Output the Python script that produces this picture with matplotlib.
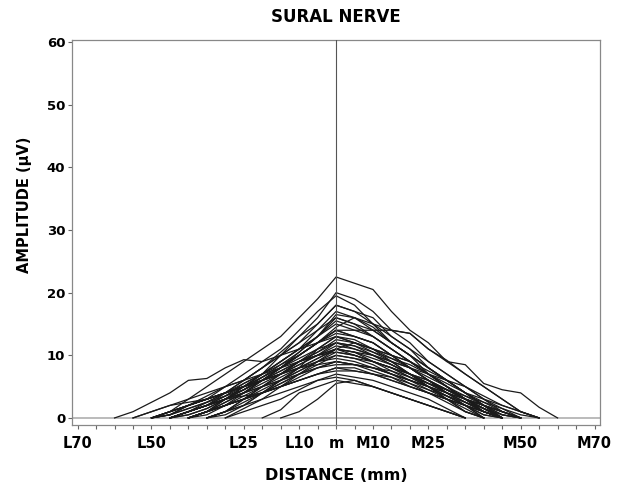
import numpy as np
import matplotlib
matplotlib.use("Agg")
import matplotlib.pyplot as plt

# distance grid (mm, negative = lateral L, positive = medial M)
distance_mm = list(range(-60, 61, 5))

amplitudes = [
    [0,0,0,1,3,5,7,9,11,13,16,19,22.5, 21.5,20.5,17,14,12,9,8.5,5.5,4.5,4,1.7,0],
    [0,0,0,0,1,2.5,4,6,8,10.5,13,16,20, 19,17,14,12,9,7,5,3,1,0,0,0],
    [0,0,0,0.5,2,3.5,5,7,9,11,14,17,19.5, 18,15,14,13.5,11,9,7,5,3,1,0,0],
    [0,0,0,0,0,1,3,5,7,10,13,15,18, 17,15,12,10,8,6,4,2,0,0,0,0],
    [0,0,0,1,2,3,5,6,8,10,12,14,17, 16,14,12,10,7,5,3,1.5,0,0,0,0],
    [0,0,0,0,1,2,3.5,5.5,7,9,11,13,16, 15,13,11,9,7,5,3,1,0,0,0,0],
    [0,1,2.5,4,6,6.3,8,9.3,9,10,11,12,14, 13,12,10,8,6,4,2.5,1,0,0,0,0],
    [0,0,0,0,0,0,1,3,5,7,9,11,13, 12,11,9,7,5,3,1,0,0,0,0,0],
    [0,0,0,0,1,2,3,4,5.5,7,8.5,10,12, 11.5,10,9,8,6,4.5,3,1.5,0,0,0,0],
    [0,0,0,1,2,3,4,5,6,7,9,10,11, 10.5,9,8,7,5.5,4,2.5,1,0,0,0,0],
    [0,0,1,2,3,4,5,6,7,8,9,10,10.5, 10,9,7.5,6,5,3.5,2,0,0,0,0,0],
    [0,0,0,0,0,1,2,3,4.5,6,7.5,9,10, 9.5,8.5,7,5.5,4,2.5,1,0,0,0,0,0],
    [0,0,0,0,0,0,0,0,0,1.3,4,5,6, 5.5,5,4,3,2,1,0,0,0,0,0,0],
    [0,0,0,0,0,0,0,1,2,3,4.5,6,7, 6.5,6,5,4,3,1.5,0,0,0,0,0,0],
    [0,0,0,0,1,2,3,3.5,4,5,6,7,8, 8,7,6,5,4,3,2,1,0,0,0,0],
    [0,0,0,0,0,1,2,3,4,5,6.5,8,9, 8.5,7.5,6.5,5,4,3,2,1,0,0,0,0],
    [0,0,1,2,2.5,3,4,5,6,7.5,9,10.5,12, 11,10,8.5,7,6,4.5,3,2,1,0,0,0],
    [0,0,0,0.5,1.5,2.5,4,5.5,7,9,11,13,15, 14,13,11,9,7,5,3,1.5,0,0,0,0],
    [0,0,0,0,0,0.5,2,4,6,8,10,12,14, 13,12,10,8,6,4,2,0.5,0,0,0,0],
    [0,0,0,0,0,0,1,2,4,6,8,9.5,11, 10,9,8,6.5,5,3.5,2,0,0,0,0,0],
    [0,0,0,1,2,3,4,5,6,7,8,8.5,9, 8.5,8,7,6,5,4,3,2,1,0,0,0],
    [0,0,0,0,0,1,2,3,4,5,6,7,7.5, 7.5,7,6,5,4,3,2,1,0,0,0,0],
    [0,0,0,0,1,2,3,4,5,6,7.5,9,10.5, 10,9,8,7,5.5,4.5,3,2,1,0,0,0],
    [0,0,0,0,0,0,0.5,2,4,6,8,11,13, 12,10.5,9,7,5,3,1,0,0,0,0,0],
    [0,0,0,0,0,1,3,5,7,9,11,14,16, 15,14,12,10,8,6,4,2,0.5,0,0,0],
    [0,0,0,0,1,2,4,6,8,10,12,15,18, 17,16,13,11,8,6,4,2,0,0,0,0],
    [0,0,0,0.5,2,3,4,5,7,8.5,10,12,13, 12.5,11,10,9,7,5,3.5,2,1,0,0,0],
    [0,0,0,0,0,0,1,2,3,4,5,6,6.5, 6,5,4,3,2,1,0,0,0,0,0,0],
    [0,0,0,1,2,3,4,5,6,7,8,9,9.5, 9,8,7.5,6.5,5.5,4.5,3.5,2.5,1.5,0.5,0,0],
    [0,0,0,0,0,1,2.5,4,6,8,10,12,14, 14,14,14,13.5,11,9.2,7,5,3,1,0,0],
    [0,0,0,0,1,2,3,4,5,6,7,8,8.5, 8.5,8,7,6,5,4,3,2,0.5,0,0,0],
    [0,0,0,0,0,0,1,3,5,7,9,10,11.5, 11,10,8.5,7,5.5,4,2.5,1,0,0,0,0],
    [0,0,0,0,0.5,1.5,3,4.5,6,8,10,12,13.5, 13,12,10,8,6.5,5,3,1,0,0,0,0],
    [0,0,0,0,0,0,0,1.5,3,5,7,8,9, 8.5,8,7,6,4.5,3,1.5,0,0,0,0,0],
    [0,0,0,0,0,1,2,3,4,5.5,7,9,11, 10.5,10,9,8,7,6,5,3.5,2,1,0,0],
    [0,0,0,0,1,2,3,4.5,6,7.5,9,10.5,12.5, 12,11,10,9,7.5,6,4,2.5,1,0,0,0],
    [0,0,0,0,0,1,2,3,4,5,6,7,8, 7.5,7,6.5,5.5,4.5,3.5,2.5,1.5,0.5,0,0,0],
    [0,0,0,0.5,1.5,2.5,3.5,4.5,6,7,8.5,10,11, 10.5,9.5,8.5,7,6,4.5,3,1.5,0,0,0,0],
    [0,0,0,0,0,0,1,2.5,4,5.5,7,8.5,10, 9.5,9,8,6.5,5,3.5,2,0.5,0,0,0,0],
    [0,0,0,0,0,1,2.5,4,6,8,10.5,13,16.5, 16,14.5,12,10,8,6,4,2,0,0,0,0],
    [0,0,0,0,1,2,3.5,5,6.5,8,10,12,14.5, 16,15,13,11,9,7,5,3,1.5,0,0,0],
    [0,0,0,0,0,1,2,3.5,5,6.5,8,9.5,11, 12,11,9.5,8,6,4.5,3,1.5,0,0,0,0],
    [0,0,0,0,0,0,0,0,0,0,1,3,5.5, 6,5,4,3,2,1,0,0,0,0,0,0],
    [0,0,0,1,2,3,4,5,6.5,8,9.5,11,12, 11.5,10.5,9.5,8.5,7,5.5,4,3,2,1,0,0],
    [0,0,0,0,0.5,1.5,3,4.5,6.5,8.5,10.5,13,15.5, 14.5,13,11,9,7,5,3,1,0,0,0,0],
]

tick_positions = [-70, -50, -25, -10, 0, 10, 25, 50, 70]
tick_labels = ["L70", "L50", "L25", "L10", "m", "M10", "M25", "M50", "M70"]
y_ticks = [0, 10, 20, 30, 40, 50, 60]

plt.rcParams['font.family'] = ['DejaVu Sans']

fig = plt.figure(figsize=(6.27, 4.90), dpi=100)
ax = fig.add_axes([0.115, 0.133, 0.842, 0.785])

x = np.array(distance_mm, dtype=float)
ax.axhline(0, color="#bbbbbb", lw=1.4, zorder=1)
for row in amplitudes:
    y = np.array(row, dtype=float)
    nz = y > 0
    keep = nz | np.roll(nz, 1) | np.roll(nz, -1)
    yy = np.where(keep, y, np.nan)
    ax.plot(x, yy, color="#1a1a1a", lw=0.9, zorder=2)

ax.axvline(0, color="#555555", lw=0.8, zorder=3)

ax.set_xlim(-71.5, 71.5)
ax.set_ylim(-1.1, 60.3)
ax.set_xticks(tick_positions)
ax.set_xticklabels(tick_labels)
ax.set_xticks(np.arange(-70, 71, 5), minor=True)
ax.set_yticks(y_ticks)
ax.tick_params(axis="both", direction="out", length=3, width=0.8, colors="#666666",
               labelcolor="black", pad=2)
ax.tick_params(axis="x", labelsize=10.5, pad=5)
ax.tick_params(axis="y", labelsize=9.5)
ax.tick_params(axis="x", which="minor", direction="out", length=3, width=0.8, colors="#666666")
for lab in ax.get_xticklabels() + ax.get_yticklabels():
    lab.set_fontweight("bold")
for s in ax.spines.values():
    s.set_color("#888888")
    s.set_linewidth(0.9)

ax.set_title("SURAL NERVE", fontsize=12, fontweight="bold", pad=13)
ax.set_xlabel("DISTANCE (mm)", fontsize=11.5, fontweight="bold", labelpad=12)
ax.set_ylabel("AMPLITUDE (\u00b5V)", fontsize=10.5, fontweight="bold")
ax.yaxis.set_label_coords(-0.076, 0.571)

fig.savefig("out.png", dpi=100)
